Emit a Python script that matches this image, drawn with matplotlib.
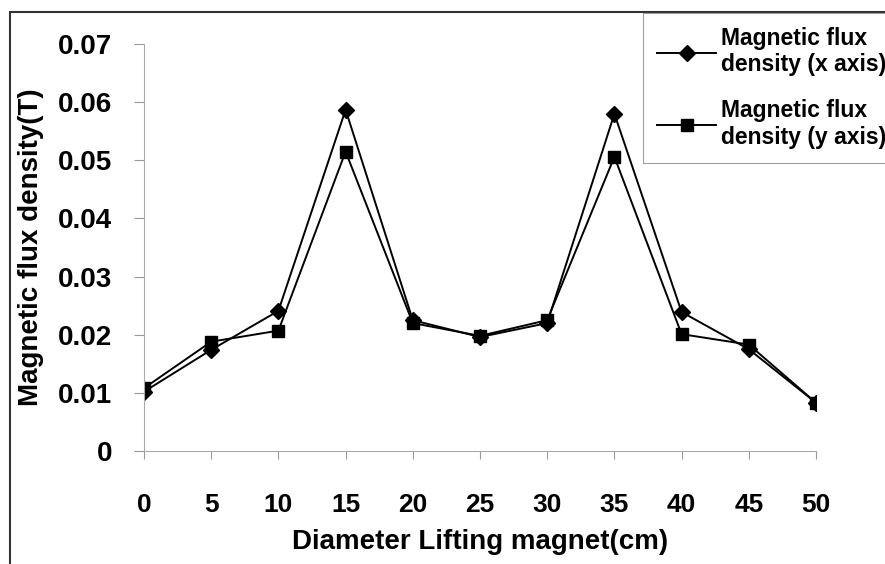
import matplotlib
matplotlib.use('Agg')
import matplotlib.pyplot as plt
from matplotlib.patches import Rectangle

plt.rcParams['font.family'] = ['Liberation Sans', 'DejaVu Sans']
plt.rcParams['font.weight'] = 'bold'

diameter = [0, 5, 10, 15, 20, 25, 30, 35, 40, 45, 50]
flux_x = [0.0102, 0.0174, 0.0241, 0.0587, 0.0225, 0.0196, 0.0220, 0.0580, 0.0239, 0.0175, 0.0083]
flux_y = [0.0108, 0.0188, 0.0207, 0.0515, 0.0220, 0.0198, 0.0225, 0.0506, 0.0201, 0.0183, 0.0083]
yticks = [0, 0.01, 0.02, 0.03, 0.04, 0.05, 0.06, 0.07]
ytick_labels = ['0', '0.01', '0.02', '0.03', '0.04', '0.05', '0.06', '0.07']

W, H = 885, 564
fig = plt.figure(figsize=(W / 100, H / 100), dpi=100)
ax = fig.add_axes([144 / W, 113 / H, (816 - 144) / W, (451 - 44) / H])

ax.plot(diameter, flux_x, color='black', lw=1.4, marker='D', ms=8,
        label='Magnetic flux\ndensity (x axis)')
ax.plot(diameter, flux_y, color='black', lw=1.4, marker='s', ms=8,
        label='Magnetic flux\ndensity (y axis)')

ax.set_xlim(0, 50)
ax.set_ylim(0, 0.07)
ax.set_xticks(diameter)
ax.set_xticklabels([str(d) for d in diameter], fontsize=19)
ax.set_yticks(yticks)
ax.set_yticklabels(ytick_labels, fontsize=20)
ax.tick_params(axis='x', direction='out', length=6, color='#999999', pad=24)
ax.tick_params(axis='y', direction='out', length=7, color='#999999', pad=16)

for s in ['top', 'right']:
    ax.spines[s].set_visible(False)
for s in ['left', 'bottom']:
    ax.spines[s].set_color('#aaaaaa')
    ax.spines[s].set_linewidth(0.8)

ax.set_xlabel('Diameter Lifting magnet(cm)', fontsize=20, fontweight='bold', labelpad=9)
ax.set_ylabel('Magnetic flux density(T)', fontsize=20, fontweight='bold', labelpad=10)
ax.patch.set_alpha(0)

# outer chart border
fig.patches.append(Rectangle((10 / W, -0.05), 1.1, 1 - 12 / H + 0.05,
                             transform=fig.transFigure, fill=False,
                             edgecolor='#333333', lw=1.5))

leg = fig.legend(loc='upper left', bbox_to_anchor=(643 / W, 1 - 13 / H),
                 fontsize=16.5, frameon=True, fancybox=False, edgecolor='#888888',
                 handlelength=2.6, handletextpad=0.2, borderpad=0.6,
                 labelspacing=1.0, borderaxespad=0)
leg.get_frame().set_linewidth(0.8)

fig.savefig('out.png', dpi=100)
